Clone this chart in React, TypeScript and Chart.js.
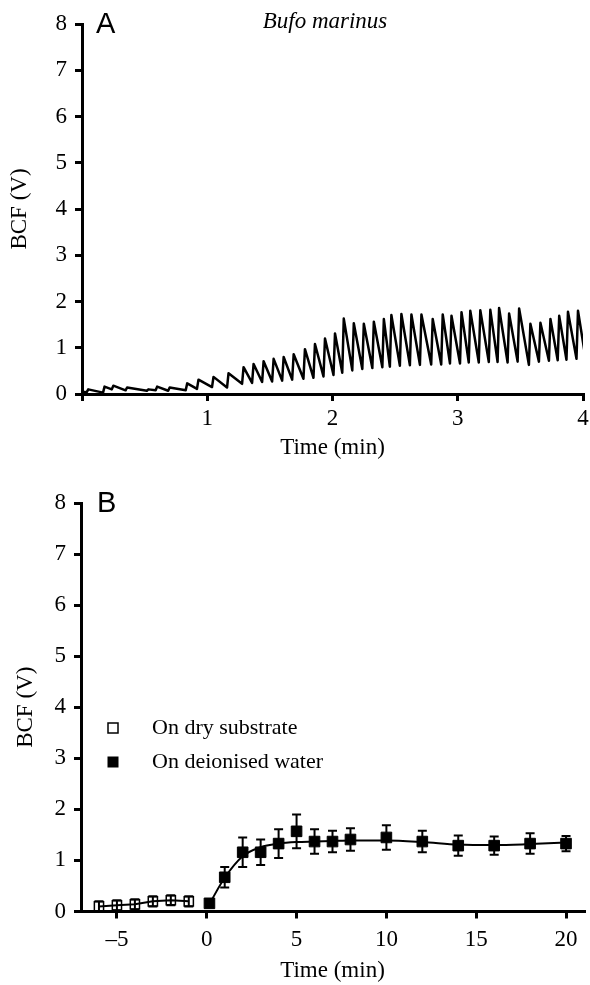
import React, { useEffect, useRef } from "react";
import { Chart, registerables } from "chart.js";

Chart.register(...registerables);

const SERIF = "'Liberation Serif', 'Times New Roman', serif";
const SANS = "'Liberation Sans', Arial, sans-serif";

// ---------- texts ----------
const panelLabelA = "A";
const panelLabelB = "B";
const speciesName = "Bufo marinus";
const yTitle = "BCF (V)";
const xTitle = "Time (min)";

// ---------- shared y ticks ----------
const yTicks = [0, 1, 2, 3, 4, 5, 6, 7, 8];

// ---------- Panel A: BCF trace ----------
const aXTicks = [0, 1, 2, 3, 4];
const aXTickLabels = ["", "1", "2", "3", "4"];
const traceStart = { t: 0.0, v: 0.05 };
const tracePeakTimes = [
  0.05, 0.18, 0.25, 0.36, 0.53, 0.6, 0.7, 0.84, 0.93, 1.05, 1.17, 1.29, 1.37, 1.45, 1.53, 1.61, 1.69,
  1.78, 1.86, 1.94, 2.02, 2.09, 2.17, 2.25, 2.33, 2.41, 2.47, 2.55, 2.63, 2.71, 2.8, 2.88, 2.95, 3.03,
  3.1, 3.18, 3.26, 3.33, 3.41, 3.49, 3.58, 3.66, 3.74, 3.81, 3.88, 3.96,
];
const tracePeakValues = [
  0.1, 0.16, 0.18, 0.14, 0.1, 0.16, 0.14, 0.23, 0.31, 0.37, 0.45, 0.58, 0.65, 0.71, 0.76, 0.8, 0.86,
  0.97, 1.08, 1.2, 1.31, 1.63, 1.53, 1.52, 1.56, 1.62, 1.71, 1.73, 1.72, 1.72, 1.62, 1.72, 1.69, 1.77,
  1.8, 1.81, 1.82, 1.86, 1.74, 1.85, 1.52, 1.54, 1.62, 1.69, 1.78, 1.8,
];
const traceTroughValues = [
  0.04, 0.03, 0.1, 0.08, 0.07, 0.08, 0.07, 0.08, 0.11, 0.15, 0.14, 0.22, 0.24, 0.26, 0.27, 0.29, 0.31,
  0.33, 0.35, 0.38, 0.41, 0.46, 0.51, 0.54, 0.56, 0.58, 0.59, 0.61, 0.62, 0.63, 0.64, 0.64, 0.66, 0.66,
  0.68, 0.68, 0.69, 0.69, 0.68, 0.7, 0.63, 0.7, 0.72, 0.73, 0.74, 0.76,
];
const traceEnd = { t: 4.02, v: 0.78 };
const riseTime = 0.012;

// ---------- Panel B ----------
const bXTicks = [-5, 0, 5, 10, 15, 20];
const bXTickLabels = ["\u20135", "0", "5", "10", "15", "20"];

const dryLabel = "On dry substrate";
const dryTimes = [-6, -5, -4, -3, -2, -1];
const dryValues = [0.1, 0.12, 0.14, 0.2, 0.22, 0.2];
const dryErrors = [0.1, 0.1, 0.1, 0.1, 0.1, 0.1];

const waterLabel = "On deionised water";
const waterTimes = [0.15, 1, 2, 3, 4, 5, 6, 7, 8, 10, 12, 14, 16, 18, 20];
const waterValues = [0.16, 0.67, 1.16, 1.16, 1.33, 1.57, 1.37, 1.37, 1.41, 1.45, 1.37, 1.29, 1.29, 1.33, 1.33];
const waterErrors = [0, 0.2, 0.29, 0.25, 0.28, 0.33, 0.24, 0.21, 0.22, 0.24, 0.21, 0.2, 0.18, 0.2, 0.15];

const fitTimes = [0.15, 1, 2, 3, 4, 5, 6, 7, 8, 10, 12, 14, 16, 18, 20];
const fitValues = [0.15, 0.66, 1.08, 1.26, 1.33, 1.36, 1.37, 1.38, 1.39, 1.39, 1.36, 1.31, 1.3, 1.32, 1.35];

// ---------- helpers ----------
const axisFont = { family: SERIF, size: 23 };

function buildTrace() {
  const pts: { x: number; y: number }[] = [{ x: traceStart.t, y: traceStart.v }];
  for (let i = 0; i < tracePeakTimes.length; i++) {
    pts.push({ x: tracePeakTimes[i] - riseTime, y: traceTroughValues[i] });
    pts.push({ x: tracePeakTimes[i], y: tracePeakValues[i] });
  }
  pts.push({ x: traceEnd.t, y: traceEnd.v });
  return pts;
}

function zip(xs: number[], ys: number[]) {
  return xs.map((x, i) => ({ x, y: ys[i] }));
}

function yScale(width: number, titlePadTop: number) {
  return {
    type: "linear",
    min: 0,
    max: 8,
    afterBuildTicks: (s: any) => {
      s.ticks = yTicks.map((v) => ({ value: v }));
    },
    afterFit: (s: any) => {
      s.width = width;
    },
    ticks: { color: "#000", font: axisFont, padding: 8, callback: (v: any) => String(v) },
    grid: { display: true, drawOnChartArea: false, drawTicks: true, tickLength: 7, color: "#000", lineWidth: 3 },
    border: { display: true, color: "#000", width: 3 },
    title: { display: true, text: yTitle, color: "#000", font: axisFont, padding: { top: titlePadTop, bottom: 0 } },
  };
}

function xScale(
  min: number,
  max: number,
  ticks: number[],
  labels: string[],
  height: number,
  tickPad: number,
  titlePadBottom: number
) {
  return {
    type: "linear",
    min,
    max,
    afterBuildTicks: (s: any) => {
      s.ticks = ticks.map((v) => ({ value: v }));
    },
    afterFit: (s: any) => {
      s.height = height;
    },
    ticks: {
      color: "#000",
      font: axisFont,
      padding: tickPad,
      maxRotation: 0,
      autoSkip: false,
      callback: (v: any) => {
        const i = ticks.indexOf(Number(v));
        return i >= 0 ? labels[i] : "";
      },
    },
    grid: { display: true, drawOnChartArea: false, drawTicks: true, tickLength: 7, color: "#000", lineWidth: 3 },
    border: { display: true, color: "#000", width: 3 },
    title: { display: true, text: xTitle, color: "#000", font: axisFont, padding: { top: 0, bottom: titlePadBottom } },
  };
}

const errorBarPlugin = {
  id: "errorBars",
  afterDatasetsDraw(chart: any) {
    const ctx = chart.ctx;
    const xs = chart.scales.x;
    const ys = chart.scales.y;
    ctx.save();
    ctx.strokeStyle = "#000";
    ctx.lineWidth = 2;
    chart.data.datasets.forEach((ds: any) => {
      const errs = ds.errorBars as number[] | undefined;
      if (!errs) return;
      ds.data.forEach((p: any, i: number) => {
        const e = errs[i];
        if (!e) return;
        const px = xs.getPixelForValue(p.x);
        const top = ys.getPixelForValue(p.y + e);
        const bot = ys.getPixelForValue(p.y - e);
        ctx.beginPath();
        ctx.moveTo(px, top);
        ctx.lineTo(px, bot);
        ctx.moveTo(px - 4.5, top);
        ctx.lineTo(px + 4.5, top);
        ctx.moveTo(px - 4.5, bot);
        ctx.lineTo(px + 4.5, bot);
        ctx.stroke();
      });
    });
    ctx.restore();
  },
};

const panelATextPlugin = {
  id: "panelAText",
  afterDraw(chart: any) {
    const ctx = chart.ctx;
    ctx.save();
    ctx.fillStyle = "#000";
    ctx.textBaseline = "alphabetic";
    ctx.textAlign = "left";
    ctx.font = `29px ${SANS}`;
    ctx.fillText(panelLabelA, 96, 33);
    ctx.font = `italic 23px ${SERIF}`;
    ctx.textAlign = "center";
    ctx.fillText(speciesName, 325, 28);
    ctx.restore();
  },
};

const panelBTextPlugin = {
  id: "panelBText",
  afterDraw(chart: any) {
    const ctx = chart.ctx;
    const ca = chart.chartArea;
    ctx.save();
    ctx.fillStyle = "#000";
    ctx.textBaseline = "alphabetic";
    ctx.textAlign = "left";
    ctx.font = `29px ${SANS}`;
    ctx.fillText(panelLabelB, 97, 42);
    // legend
    const mx = ca.left + 32;
    const y1 = ca.top + 225;
    const y2 = ca.top + 259;
    ctx.strokeStyle = "#000";
    ctx.lineWidth = 1.5;
    ctx.strokeRect(mx - 5, y1 - 5, 10, 10);
    ctx.fillRect(mx - 5.5, y2 - 5.5, 11, 11);
    ctx.font = `22px ${SERIF}`;
    ctx.textBaseline = "middle";
    ctx.fillText(chart.data.datasets[1].label, ca.left + 71, y1);
    ctx.fillText(chart.data.datasets[0].label, ca.left + 71, y2);
    ctx.restore();
  },
};

export default function App() {
  const refA = useRef<HTMLCanvasElement>(null);
  const refB = useRef<HTMLCanvasElement>(null);

  useEffect(() => {
    Chart.defaults.font.family = SERIF;
    Chart.defaults.color = "#000";

    const chartA = new Chart(refA.current as HTMLCanvasElement, {
      type: "scatter",
      data: {
        datasets: [
          {
            label: "BCF",
            data: buildTrace(),
            showLine: true,
            borderColor: "#000",
            borderWidth: 2.5,
            borderJoinStyle: "round",
            pointRadius: 0,
            tension: 0,
          } as any,
        ],
      },
      options: {
        animation: false,
        responsive: false,
        devicePixelRatio: 1,
        layout: { padding: { top: 24, left: 0, right: 37, bottom: 0 } },
        plugins: { legend: { display: false }, tooltip: { enabled: false } },
        scales: {
          x: xScale(0, 4, aXTicks, aXTickLabels, 76, 4, 8) as any,
          y: yScale(82, 5.7) as any,
        },
      },
      plugins: [panelATextPlugin],
    });

    const chartB = new Chart(refB.current as HTMLCanvasElement, {
      type: "scatter",
      data: {
        datasets: [
          {
            label: waterLabel,
            data: zip(waterTimes, waterValues),
            errorBars: waterErrors,
            showLine: false,
            pointStyle: "rect",
            pointRadius: 7.5,
            pointBackgroundColor: "#000",
            pointBorderColor: "#000",
            pointBorderWidth: 1,
          } as any,
          {
            label: dryLabel,
            data: zip(dryTimes, dryValues),
            errorBars: dryErrors,
            showLine: true,
            borderColor: "#000",
            borderWidth: 2,
            pointStyle: "rect",
            pointRadius: 6.5,
            pointBackgroundColor: "rgba(0,0,0,0)",
            pointBorderColor: "#000",
            pointBorderWidth: 1.5,
          } as any,
          {
            label: "fit",
            data: zip(fitTimes, fitValues),
            showLine: true,
            borderColor: "#000",
            borderWidth: 2,
            pointRadius: 0,
            cubicInterpolationMode: "monotone",
          } as any,
        ],
      },
      options: {
        animation: false,
        responsive: false,
        devicePixelRatio: 1,
        layout: { padding: { top: 33, left: 0, right: 36, bottom: 0 } },
        plugins: { legend: { display: false }, tooltip: { enabled: false } },
        scales: {
          x: xScale(-7, 21, bXTicks, bXTickLabels, 73.5, 7.5, 0.5) as any,
          y: yScale(81, 12.2) as any,
        },
      },
      plugins: [errorBarPlugin, panelBTextPlugin],
    });

    return () => {
      chartA.destroy();
      chartB.destroy();
    };
  }, []);

  return (
    <div
      style={{
        position: "fixed",
        left: 0,
        top: 0,
        width: 590,
        height: 985,
        overflow: "hidden",
        background: "#fff",
      }}
    >
      <canvas
        ref={refA}
        width={620}
        height={470}
        style={{ position: "absolute", left: 0, top: 0, width: 620, height: 470 }}
      />
      <canvas
        ref={refB}
        width={620}
        height={515}
        style={{ position: "absolute", left: 0, top: 470, width: 620, height: 515 }}
      />
    </div>
  );
}
